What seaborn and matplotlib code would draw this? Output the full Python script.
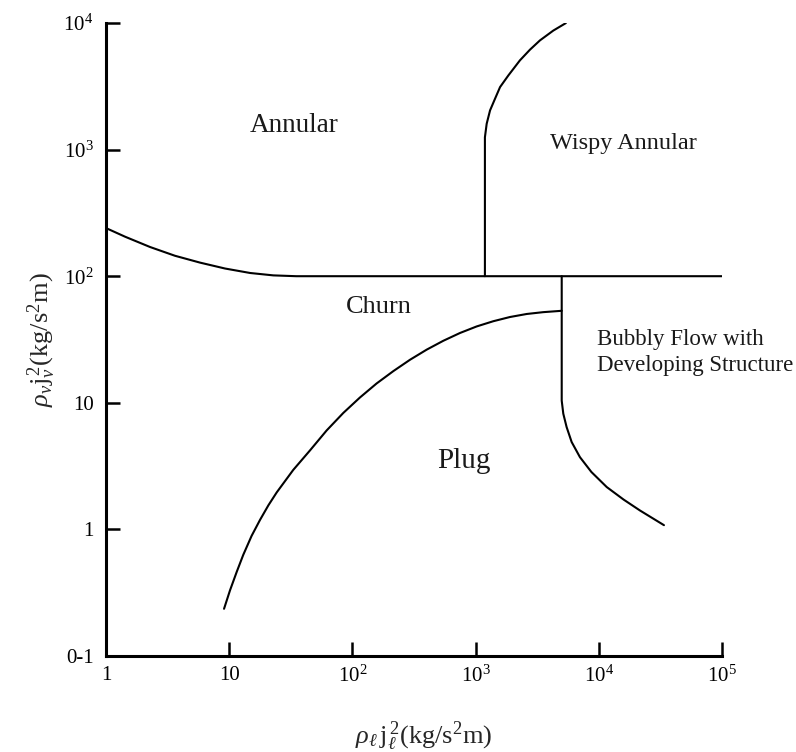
import matplotlib
matplotlib.use("Agg")
import matplotlib.pyplot as plt
import seaborn as sns
from matplotlib.ticker import FixedLocator, NullLocator

# ---- data ----
annular_churn_x = [1, 1.43, 2.28, 3.63, 5.8, 9.25, 14.8, 22.8, 35, 1e5]
annular_churn_y = [240, 205, 170, 145, 128, 115, 106, 101.5, 100, 100]

wispy_x = [1190, 1190, 1230, 1310, 1437, 1580, 1845, 2290, 2760, 3330, 4270, 5400]
wispy_y = [100, 1250, 1600, 2040, 2520, 3120, 3855, 5070, 6150, 7290, 8710, 9980]

plug_x = [9.08, 10.15, 11.5, 13.0, 15.2, 17.8, 20.8, 24.3, 33.1, 45.3, 61.8,
          84.4, 115, 157, 215, 294, 401, 547, 747, 1020, 1393, 1900, 2600,
          3540, 5000]
plug_y = [0.236, 0.33, 0.461, 0.629, 0.889, 1.19, 1.55, 1.96, 2.95, 4.21, 6.05,
          8.32, 11.0, 14.2, 17.8, 21.9, 26.3, 30.9, 35.6, 40.1, 44.1, 47.6, 50.3,
          52.0, 53.3]

bubbly_x = [5000, 5000, 5150, 5480, 6020, 7030, 8710, 11600, 15900, 21600, 33800]
bubbly_y = [100, 10.4, 8.2, 6.43, 4.9, 3.72, 2.84, 2.16, 1.72, 1.41, 1.08]

region_names = ["Annular", "Wispy Annular", "Churn", "Plug",
                "Bubbly Flow with\nDeveloping Structure"]
region_x = [33.6, 15900, 164, 800, 9670]
region_y = [1555, 1115, 57, 3.5, 25]
region_sizes = [19.5, 17.5, 19, 21, 16.5]

x_ticks = [1, 10, 1e2, 1e3, 1e4, 1e5]
x_tick_labels = ["1", "10", r"$10^2$", r"$10^3$", r"$10^4$", r"$10^5$"]
y_ticks = [0.1, 1, 10, 1e2, 1e3, 1e4]
y_tick_labels = ["0-1", "1", "10", r"$10^2$", r"$10^3$", r"$10^4$"]

# ---- style ----
sns.set_theme(style="ticks")
plt.rcParams["font.family"] = ["Liberation Serif", "DejaVu Serif"]
plt.rcParams["mathtext.fontset"] = "custom"
plt.rcParams["mathtext.rm"] = "Liberation Serif"
plt.rcParams["mathtext.it"] = "Liberation Serif:italic"
plt.rcParams["mathtext.bf"] = "Liberation Serif:bold"

fig = plt.figure(figsize=(7.96, 7.52), dpi=100)
ax = fig.add_axes([106 / 796, 1 - 656 / 752, (722 - 106) / 796, (656 - 23) / 752])
ax.set_xscale("log")
ax.set_yscale("log")

lw = 1.5
for xs, ys in [(annular_churn_x, annular_churn_y), (wispy_x, wispy_y),
               (plug_x, plug_y), (bubbly_x, bubbly_y)]:
    sns.lineplot(x=xs, y=ys, sort=False, estimator=None, color="black",
                 linewidth=lw, ax=ax)

for name, xx, yy, fs in zip(region_names, region_x, region_y, region_sizes):
    if name.startswith("Bubbly"):
        ax.text(xx, yy, name, ha="left", va="center", fontsize=fs,
                linespacing=1.3, color="#1a1a1a")
    else:
        ax.text(xx, yy, name, ha="center", va="center", fontsize=fs,
                color="#1a1a1a")

ax.set_xlim(1, 1e5)
ax.set_ylim(0.1, 1e4)
ax.xaxis.set_major_locator(FixedLocator(x_ticks))
ax.yaxis.set_major_locator(FixedLocator(y_ticks))
ax.xaxis.set_minor_locator(NullLocator())
ax.yaxis.set_minor_locator(NullLocator())
ax.set_xticklabels(x_tick_labels)
ax.set_yticklabels(y_tick_labels)
ax.tick_params(axis="both", direction="in", length=10, width=1.8,
               labelsize=15, colors="black")
ax.tick_params(axis="x", pad=7)
ax.tick_params(axis="y", pad=9)

for side in ["top", "right"]:
    ax.spines[side].set_visible(False)
for side in ["left", "bottom"]:
    ax.spines[side].set_linewidth(2.2)
    ax.spines[side].set_color("black")

ax.set_xlabel(r"$\rho_\ell\, \mathrm{j}_\ell^{\,2}$(kg/s$^2$m)", fontsize=19, labelpad=20)
ax.xaxis.set_label_coords(0.515, -0.1)
ax.set_ylabel(r"$\rho_v \mathrm{j}_v^{\,2}$(kg/s$^2$m)", fontsize=19, labelpad=4)

fig.savefig("out.png", dpi=100, facecolor="white")
